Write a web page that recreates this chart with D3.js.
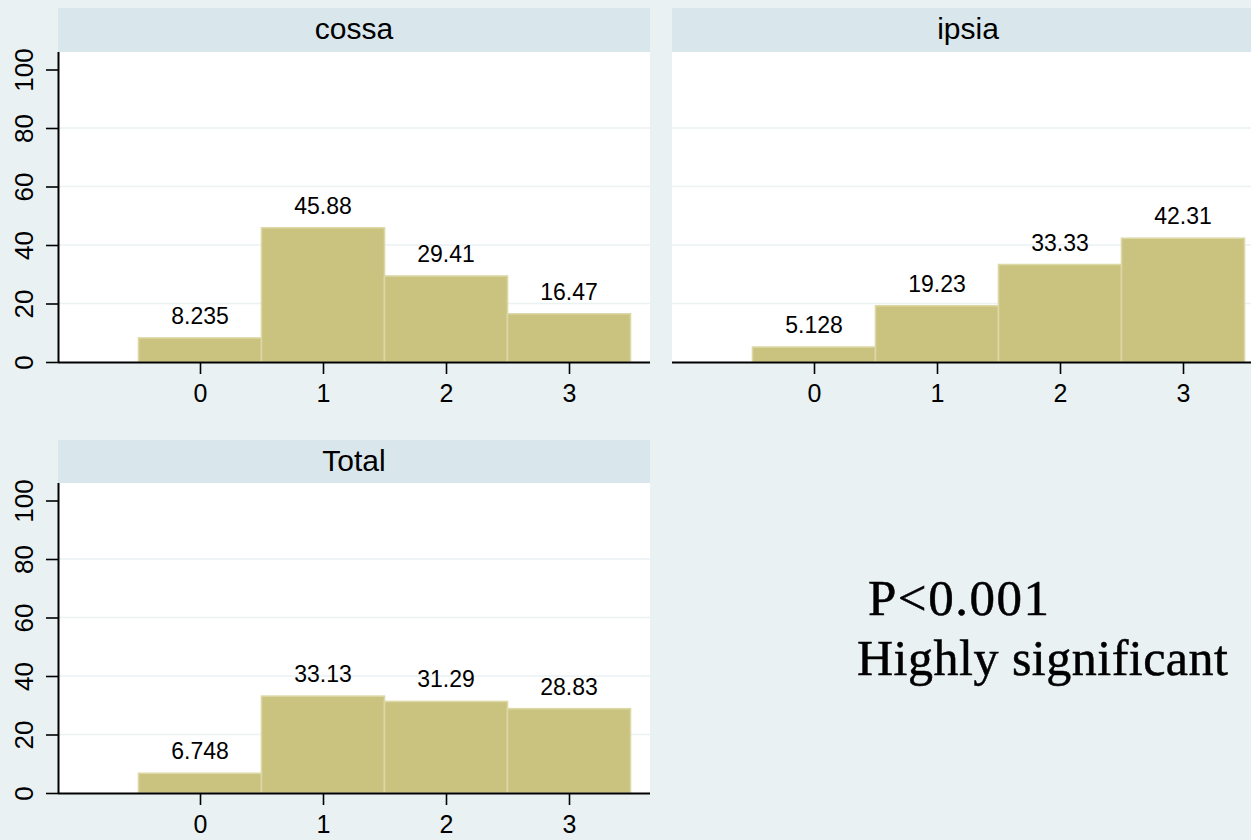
<!DOCTYPE html>
<html>
<head>
<meta charset="utf-8">
<script src="https://cdn.jsdelivr.net/npm/d3@7"></script>
<style>
html,body{margin:0;padding:0;background:#E9F1F3;}
svg{display:block;}
</style>
</head>
<body>
<svg id="chart" width="1251" height="840"></svg>
<script>
const panelTitles = ["cossa", "ipsia", "Total"];
const categories = [0, 1, 2, 3];
const cossaValues = [8.235, 45.88, 29.41, 16.47];
const ipsiaValues = [5.128, 19.23, 33.33, 42.31];
const totalValues = [6.748, 33.13, 31.29, 28.83];
const valueLabels = {
  cossa: ["8.235", "45.88", "29.41", "16.47"],
  ipsia: ["5.128", "19.23", "33.33", "42.31"],
  Total: ["6.748", "33.13", "31.29", "28.83"]
};
const yTicks = [0, 20, 40, 60, 80, 100];
const gridTicks = [20, 40, 60, 80];
const annotationLines = ["P<0.001", "Highly significant"];

const seriesByTitle = {cossa: cossaValues, ipsia: ipsiaValues, Total: totalValues};

const layout = [
  {x0: 58, headerTop: 8, plotTop: 52, y0: 362, yAxis: true},
  {x0: 672, headerTop: 8, plotTop: 52, y0: 362, yAxis: false},
  {x0: 58, headerTop: 440, plotTop: 483, y0: 793, yAxis: true}
];
const panelW = 592;
const unit = 123;
const yUnit = 2.925;

const svg = d3.select("#chart");
svg.append("rect").attr("width", 1251).attr("height", 840).attr("fill", "#E9F1F3");

panelTitles.forEach((title, pi) => {
  const L = layout[pi];
  const values = seriesByTitle[title];
  const x = d3.scaleLinear()
    .domain([-142 / unit, (panelW - 142) / unit])
    .range([L.x0, L.x0 + panelW]);
  const y = d3.scaleLinear()
    .domain([0, 100])
    .range([L.y0, L.y0 - 100 * yUnit]);

  const g = svg.append("g");
  g.append("rect")
    .attr("x", L.x0).attr("y", L.headerTop)
    .attr("width", panelW).attr("height", L.plotTop - L.headerTop)
    .attr("fill", "#D9E6EB");
  g.append("text")
    .attr("x", L.x0 + panelW / 2).attr("y", L.headerTop + 31)
    .attr("text-anchor", "middle")
    .attr("font-family", "Liberation Sans, Arial, sans-serif")
    .attr("font-size", 30).attr("fill", "#000")
    .text(title);
  g.append("rect")
    .attr("x", L.x0).attr("y", L.plotTop)
    .attr("width", panelW).attr("height", L.y0 - L.plotTop)
    .attr("fill", "#FFFFFF");
  g.selectAll(".grid").data(gridTicks).enter().append("line")
    .attr("x1", L.x0).attr("x2", L.x0 + panelW)
    .attr("y1", d => y(d)).attr("y2", d => y(d))
    .attr("stroke", "#EAF2F3").attr("stroke-width", 1.6);
  g.selectAll(".bar").data(categories).enter().append("rect")
    .attr("x", (d) => x(d - 0.5))
    .attr("width", (d) => x(d + 0.5) - x(d - 0.5))
    .attr("y", (d, i) => y(values[i]))
    .attr("height", (d, i) => y(0) - y(values[i]))
    .attr("fill", "#CAC27F")
    .attr("stroke", "#DCD8A6").attr("stroke-width", 1.6);
  g.selectAll(".vl").data(categories).enter().append("text")
    .attr("x", d => x(d))
    .attr("y", (d, i) => y(values[i]) - 14)
    .attr("text-anchor", "middle")
    .attr("font-family", "Liberation Sans, Arial, sans-serif")
    .attr("font-size", 23).attr("fill", "#000")
    .text((d, i) => valueLabels[title][i]);

  const xAxis = d3.axisBottom(x).tickValues(categories).tickSize(12).tickPadding(10)
    .tickFormat(d3.format("d"));
  const xg = g.append("g").attr("transform", `translate(0,${L.y0})`).call(xAxis);
  xg.select(".domain").attr("d", `M${L.x0},0.5H${L.x0 + panelW}`)
    .attr("stroke", "#000").attr("stroke-width", 2);
  xg.selectAll(".tick line").attr("stroke", "#000").attr("stroke-width", 1.6);
  xg.selectAll(".tick text")
    .attr("font-family", "Liberation Sans, Arial, sans-serif")
    .attr("font-size", 25).attr("fill", "#000");

  if (L.yAxis) {
    const yAxis = d3.axisLeft(y).tickValues(yTicks).tickSize(12).tickPadding(0)
      .tickFormat(d3.format("d"));
    const yg = g.append("g").attr("transform", `translate(${L.x0},0)`).call(yAxis);
    yg.select(".domain").attr("d", `M0.5,${L.plotTop}V${L.y0}`)
      .attr("stroke", "#000").attr("stroke-width", 2);
    yg.selectAll(".tick line").attr("stroke", "#000").attr("stroke-width", 1.6);
    yg.selectAll(".tick text")
      .attr("font-family", "Liberation Sans, Arial, sans-serif")
      .attr("font-size", 26).attr("fill", "#000")
      .attr("text-anchor", "middle")
      .attr("x", null).attr("dy", null)
      .attr("transform", "translate(-25,0) rotate(-90)");
  }
});

const ann = svg.append("g").attr("font-family", "Liberation Serif, 'DejaVu Serif', serif")
  .attr("fill", "#000").attr("stroke", "#000").attr("stroke-width", 0.5);
ann.append("text").attr("x", 868).attr("y", 615).attr("font-size", 51)
  .attr("letter-spacing", 1.5).text(annotationLines[0]);
ann.append("text").attr("x", 857).attr("y", 675).attr("font-size", 50)
  .attr("letter-spacing", 0.5).text(annotationLines[1]);
</script>
</body>
</html>
